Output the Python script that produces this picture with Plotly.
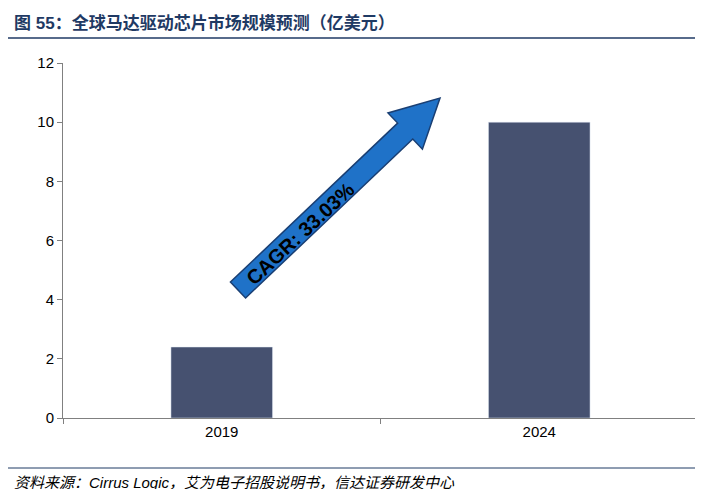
import numpy as np
import plotly.graph_objects as go

years = ["2019", "2024"]
market = [2.4, 10.0]
y_ticks = [0, 2, 4, 6, 8, 10, 12]
title = "图 55：全球马达驱动芯片市场规模预测（亿美元）"
source = "资料来源：Cirrus Logic，艾为电子招股说明书，信达证券研发中心"
cagr = "CAGR: 33.03%"

W, H = 703, 489
L, R, T, B = 55, 13, 55, 79
pw, ph = W - L - R, H - T - B

def to_paper(px, py):
    return (px - L) / pw, (H - B - py) / ph

fig = go.Figure(go.Bar(x=years, y=market, marker_color="#465170", width=0.32))

# big arrow as a polygon (pixel geometry -> paper coords)
tail = np.array([230.0, 282.0])
tip = np.array([432.0, 90.0])
d = tip - tail
u = d / np.linalg.norm(d)
n = np.array([-u[1], u[0]])
hb = tip - u * 48
pts = [tail + n * 11, hb + n * 11, hb + n * 25, tip, hb - n * 25, hb - n * 11, tail - n * 11]
path = "M " + " L ".join(f"{to_paper(*p)[0]:.4f},{to_paper(*p)[1]:.4f}" for p in pts) + " Z"
fig.add_shape(type="path", path=path, xref="paper", yref="paper",
              fillcolor="#1F72C8", line=dict(color="#1A3F73", width=1.5))

cx, cy = to_paper(292, 168)
fig.add_annotation(x=cx, y=cy, xref="paper", yref="paper", text=f"<b>{cagr}</b>",
                   showarrow=False, textangle=-43, font=dict(size=20, color="black"))

fig.add_annotation(x=0, y=1, xref="paper", yref="paper", xanchor="left", yanchor="top",
                   text=f"<b>{title}</b>", showarrow=False, xshift=-L + 4,
                   yshift=T - 3, font=dict(size=17, color="#1F3A64"))
fig.add_annotation(x=0, y=0, xref="paper", yref="paper", xanchor="left", yanchor="bottom",
                   text=f"<i>{source}</i>", showarrow=False, xshift=-L + 4,
                   yshift=-B + 4, font=dict(size=15, color="black"))
x0, _ = to_paper(0, 0)
x1, _ = to_paper(W, 0)
_, yt = to_paper(0, 30)
_, yb = to_paper(0, 460)
fig.add_shape(type="line", xref="paper", yref="paper", x0=x0, x1=x1, y0=yt, y1=yt,
              line=dict(color="#1F3A64", width=1.5))
fig.add_shape(type="line", xref="paper", yref="paper", x0=x0, x1=x1, y0=yb, y1=yb,
              line=dict(color="#1F3A64", width=1))

fig.update_layout(
    width=W, height=H, margin=dict(l=L, r=R, t=T, b=B),
    plot_bgcolor="white", paper_bgcolor="white", showlegend=False,
    font=dict(family="Liberation Sans, Noto Sans CJK SC", size=15, color="black"),
    bargap=0.5,
)
fig.update_xaxes(showline=True, linecolor="#808080", ticks="outside", tickson="boundaries",
                 ticklen=5, tickcolor="#808080", tickfont=dict(size=15))
fig.update_yaxes(range=[0, 12], tickvals=y_ticks, showline=True, linecolor="#808080",
                 ticks="outside", ticklen=5, tickcolor="#808080", showgrid=False,
                 zeroline=False, tickfont=dict(size=15))

fig.write_html("out.html")
